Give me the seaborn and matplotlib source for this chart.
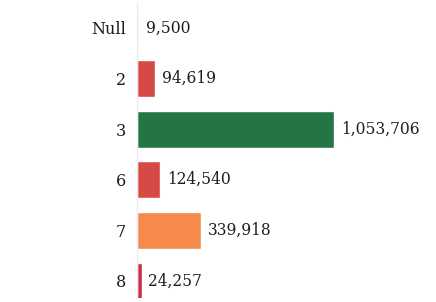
import matplotlib
matplotlib.use("Agg")
import matplotlib.pyplot as plt
import seaborn as sns
import pandas as pd

categories = ["Null", "2", "3", "6", "7", "8"]
values = [9500, 94619, 1053706, 124540, 339918, 24257]
bar_colors = ["#f4f4f4", "#d64a45", "#237643", "#d64a45", "#f68a4c", "#c9304a"]

sns.set_theme(style="white")
plt.rcParams["font.family"] = ["DejaVu Serif"]

df = pd.DataFrame({"category": categories, "count": values})

fig = plt.figure(figsize=(4.36, 3.02), dpi=100)
ax = fig.add_axes([137 / 436, 4 / 302, 290 / 436, 295 / 302])

sns.barplot(data=df, x="count", y="category", hue="category", order=categories,
            palette=dict(zip(categories, bar_colors)), orient="h", width=0.73,
            legend=False, saturation=1, ax=ax)

for cont in ax.containers:
    ax.bar_label(cont, labels=[f"{v:,.0f}" for v in cont.datavalues],
                 padding=5, fontsize=11.2, color="#1e1e1e")

ax.set_xlim(0, 1.55e6)
ax.set_ylim(5.336, -0.494)
ax.set_xlabel("")
ax.set_ylabel("")
ax.set_xticks([])
ax.tick_params(axis="y", length=0, pad=8, labelsize=11.5, labelcolor="#1a1a1a")
for side in ["top", "right", "bottom"]:
    ax.spines[side].set_visible(False)
ax.spines["left"].set_color("#ececec")
ax.spines["left"].set_linewidth(1)

fig.savefig("out.png", dpi=100)
